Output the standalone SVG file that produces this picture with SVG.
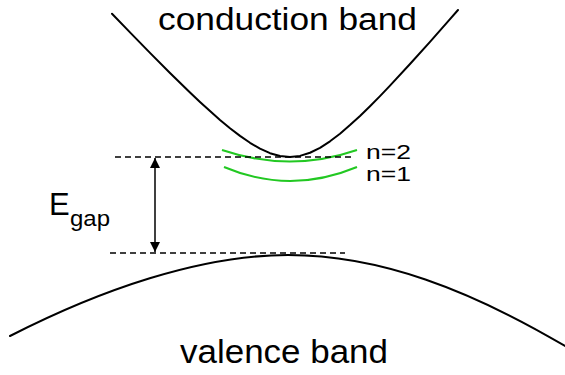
<svg xmlns="http://www.w3.org/2000/svg" width="565" height="375" viewBox="0 0 565 375">
<defs>
<style>
.t{font-family:"Liberation Sans",Arial,sans-serif;fill:#000}
.band{fill:none;stroke:#000;stroke-width:2;stroke-linejoin:round;stroke-linecap:round}
.lvl{fill:none;stroke:#22c822;stroke-width:2}
.dash{fill:none;stroke:#000;stroke-width:1.3;stroke-dasharray:6,4}
</style>
<marker id="ah" viewBox="0 0 10 10" refX="10" refY="5" markerWidth="10" markerHeight="10" markerUnits="userSpaceOnUse" orient="auto-start-reverse">
<path d="M0,0 L10,5 L0,10 z" fill="#000"/>
</marker>
</defs>
<rect width="565" height="375" fill="#fff"/>
<g id="conduction">
<polyline class="band" points="112,13.8 130,32.4 150,52.9 170,73 190,92.5 200,101.9 210,111.1 220,119.9 230,128.2 240,135.9 250,142.8 260,148.7 270,153.2 280,156 290,157 300,155.9 310,152.75 320,147.8 330,141.3 340,133.7 350,125.1 360,116 370,106.2 380,96.1 390,85.6 410,64 430,41.8 450,19.1 458,10"/>
<text class="t" x="158" y="30" font-size="31" textLength="259" lengthAdjust="spacingAndGlyphs">conduction band</text>
</g>
<g id="valence">
<path class="band" d="M10,336 C100,290 200,255 288,255 C380,255 470,290 565,346"/>
<text class="t" x="180" y="363" font-size="34" textLength="208" lengthAdjust="spacingAndGlyphs">valence band</text>
</g>
<g id="levels">
<path class="lvl" d="M222,150 Q290,173 357,150"/>
<path class="lvl" d="M224,167 Q290,195 357,167"/>
<text class="t" x="366" y="159" font-size="21" textLength="45" lengthAdjust="spacingAndGlyphs">n=2</text>
<text class="t" x="366" y="181" font-size="21" textLength="45" lengthAdjust="spacingAndGlyphs">n=1</text>
</g>
<g id="connectors">
<line class="dash" x1="115" y1="157" x2="352" y2="157"/>
<line class="dash" x1="110" y1="253" x2="345" y2="253"/>
<line x1="155" y1="158" x2="155" y2="252" stroke="#000" stroke-width="1.5" marker-start="url(#ah)" marker-end="url(#ah)"/>
</g>
<g id="egap">
<text class="t" x="49" y="215" font-size="31">E</text>
<text class="t" x="70" y="226" font-size="22" textLength="40" lengthAdjust="spacingAndGlyphs">gap</text>
</g>
</svg>
